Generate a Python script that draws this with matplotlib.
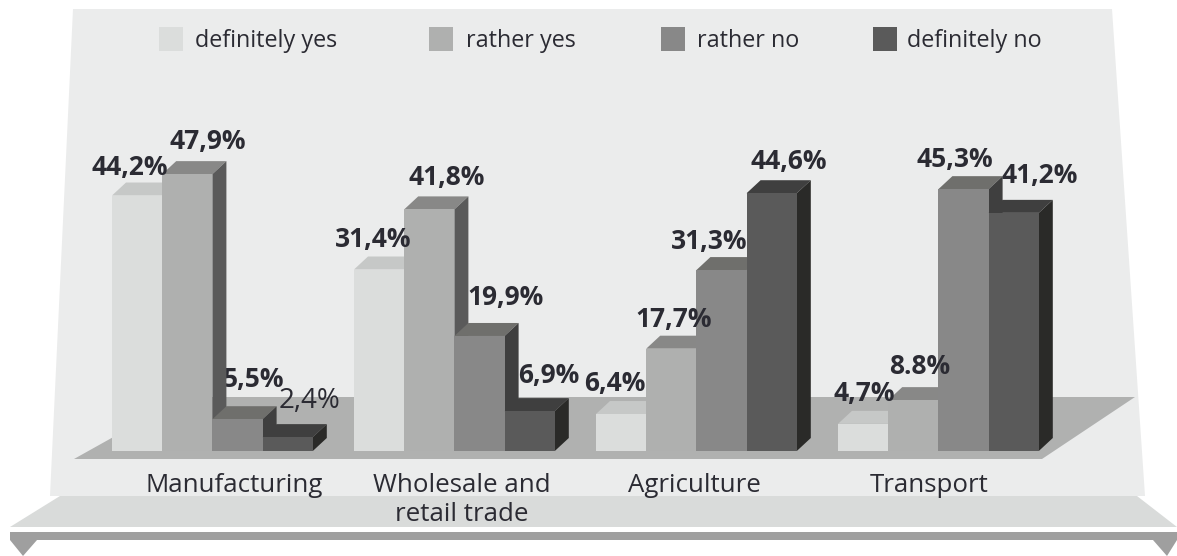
import matplotlib
matplotlib.use('Agg')
import matplotlib.pyplot as plt
from matplotlib.patches import Polygon

plt.rcParams['font.family'] = ['Open Sans', 'DejaVu Sans']

# Survey shares in percent, one list per answer
categories = ['Manufacturing', 'Wholesale and\nretail trade', 'Agriculture', 'Transport']
answers = ['definitely yes', 'rather yes', 'rather no', 'definitely no']
definitely_yes = [44.2, 31.4, 6.4, 4.7]
rather_yes = [47.9, 41.8, 17.7, 8.8]
rather_no = [5.5, 19.9, 31.3, 45.3]
definitely_no = [2.4, 6.9, 44.6, 41.2]
series = [definitely_yes, rather_yes, rather_no, definitely_no]

front_colors = ['#dbdddc', '#afb0af', '#888888', '#5a5a5a']
top_colors = ['#c6c8c7', '#888887', '#6f6f6c', '#3f3f3f']
side_colors = ['#afb0af', '#5a5a5a', '#3f3f3f', '#2a2a28']
text_color = '#2b2b33'

W, H = 1177, 556
BAR_PX = 50.2
STEP = 242 / BAR_PX
PCT_PX = 5.78
LEFT_PX, BASE_PX = 112, 451
DX = 14 / BAR_PX
DY = 13 / PCT_PX

fig = plt.figure(figsize=(W / 100, H / 100), dpi=100, facecolor='white')

# backdrop drawn in pixel coordinates
bg = fig.add_axes([0, 0, 1, 1], zorder=0)
bg.set_xlim(0, W)
bg.set_ylim(H, 0)
bg.axis('off')

bg.add_patch(Polygon([(73, 9), (1112, 9), (1145, 496), (50, 496)], fc='#ebecec', ec='none'))
bg.add_patch(Polygon([(74, 459), (1042, 459), (1135, 397), (185, 397)], fc='#b0b1b0', ec='none'))
bg.add_patch(Polygon([(60, 496), (1137, 496), (1177, 527), (10, 527)], fc='#d9dbda', ec='none'))
bg.add_patch(Polygon([(10, 532), (1177, 532), (1177, 540), (10, 540)], fc='#9f9f9f', ec='none'))
bg.add_patch(Polygon([(10, 540), (37, 540), (23, 556)], fc='#9f9f9f', ec='none'))
bg.add_patch(Polygon([(1153, 540), (1177, 540), (1167, 556)], fc='#9f9f9f', ec='none'))

# legend
legend_box_x = [159, 429, 661, 873]
legend_text_x = [195, 466, 697, 907]
for i, name in enumerate(answers):
    bg.add_patch(Polygon([(legend_box_x[i], 27), (legend_box_x[i] + 24, 27),
                          (legend_box_x[i] + 24, 51), (legend_box_x[i], 51)],
                         fc=front_colors[i], ec='none'))
    bg.text(legend_text_x[i], 41, name, fontsize=16.8, color=text_color, va='center', ha='left')

# bars: x in bar widths, y in percent
ax = fig.add_axes([LEFT_PX / W, (H - BASE_PX) / H, (W - LEFT_PX) / W, (BASE_PX - 9) / H], zorder=1)
ax.set_xlim(0, (W - LEFT_PX) / BAR_PX)
ax.set_ylim(0, (BASE_PX - 9) / PCT_PX)
ax.axis('off')
ax.patch.set_visible(False)

z = 2
for g in range(len(categories)):
    for s, values in enumerate(series):
        v = values[g]
        x0 = g * STEP + s
        x1 = x0 + 1
        ax.add_patch(Polygon([(x0, v), (x1, v), (x1 + DX, v + DY), (x0 + DX, v + DY)],
                             fc=top_colors[s], ec='none', zorder=z))
        ax.add_patch(Polygon([(x1, 0), (x1 + DX, DY), (x1 + DX, v + DY), (x1, v)],
                             fc=side_colors[s], ec='none', zorder=z))
        ax.bar(x0, v, width=1, align='edge', color=front_colors[s], zorder=z + 0.5)
        z += 1

# value labels, placed by hand around the bars
value_labels = [['44,2%', '47,9%', '5,5%', '2,4%'],
                ['31,4%', '41,8%', '19,9%', '6,9%'],
                ['6,4%', '17,7%', '31,3%', '44,6%'],
                ['4,7%', '8.8%', '45,3%', '41,2%']]
label_x = [[130, 208, 253, 309], [373, 447, 506, 549], [615, 674, 709, 789], [864, 920, 955, 1040]]
label_y = [[167, 141, 379, 401], [239, 177, 298, 375], [384, 319, 242, 161], [394, 366, 159, 175]]
for g in range(4):
    for s in range(4):
        regular = value_labels[g][s] == '2,4%'
        # the 5,5% label tucks behind the second bar
        order = 1.5 if value_labels[g][s] == '5,5%' else 100
        ax.text(label_x[g][s], label_y[g][s], value_labels[g][s], transform=bg.transData,
                fontsize=20 if regular else 19, fontweight='normal' if regular else 'bold',
                color=text_color, ha='center', va='center', zorder=order, clip_on=False)

# category names under the floor
cat_x = [234, 462, 694, 929]
for x, name in zip(cat_x, categories):
    ax.text(x, 473, name, transform=bg.transData, fontsize=18.6, color=text_color,
            ha='center', va='top', linespacing=1.2, zorder=100, clip_on=False)

fig.savefig('out.png', dpi=100, facecolor='white')
